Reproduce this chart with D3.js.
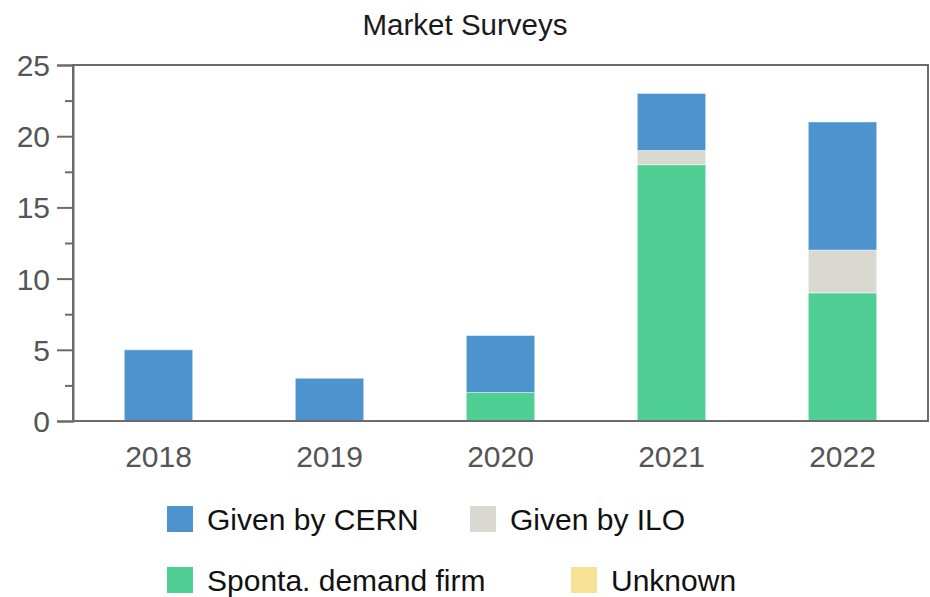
<!DOCTYPE html>
<html>
<head>
<meta charset="utf-8">
<script src="https://cdn.jsdelivr.net/npm/d3@7"></script>
<style>
  body { margin: 0; background: #fff; }
  text { font-family: "Liberation Sans", Arial, sans-serif; }
</style>
</head>
<body>
<div id="chart"></div>
<script>
var years = ["2018", "2019", "2020", "2021", "2022"];
var seriesNames = ["Sponta. demand firm", "Given by ILO", "Given by CERN", "Unknown"];
var cern = [5, 3, 4, 4, 9];
var ilo = [0, 0, 0, 1, 3];
var sponta = [0, 0, 2, 18, 9];
var unknown = [0, 0, 0, 0, 0];
var yTicks = [0, 5, 10, 15, 20, 25];

var colors = {
  "Given by CERN": "#4d93ce",
  "Given by ILO": "#d9d9d1",
  "Sponta. demand firm": "#4fcf94",
  "Unknown": "#f7e295"
};

var chart = {
  width: 930,
  height: 597,
  top: 65,
  right: 2,
  bottom: 176,
  left: 73,
};

var w = chart.width - chart.left - chart.right;
var h = chart.height - chart.top - chart.bottom;

var rows = years.map((y, i) => {
  return {
    year: y,
    "Sponta. demand firm": sponta[i],
    "Given by ILO": ilo[i],
    "Given by CERN": cern[i],
    "Unknown": unknown[i]
  };
});

var svg = d3.select("#chart")
  .append("svg")
  .attr("width", chart.width)
  .attr("height", chart.height);

svg.append("text")
  .attr("x", 465)
  .attr("y", 35)
  .attr("text-anchor", "middle")
  .style("font-size", "29.5px")
  .style("fill", "#1a1a1a")
  .text("Market Surveys");

var g = svg.append("g")
  .attr("transform", "translate(" + chart.left + "," + chart.top + ")");

var x = d3.scaleBand()
  .domain(years)
  .range([0, w])
  .paddingInner(0.6)
  .paddingOuter(0.3);

var y = d3.scaleLinear()
  .domain([0, 25])
  .range([h, 0]);

/* stacked bars */
var stacked = d3.stack().keys(seriesNames)(rows);

g.selectAll("g.layer")
  .data(stacked)
  .enter()
  .append("g")
  .attr("class", "layer")
  .style("fill", (d) => colors[d.key])
  .selectAll("rect")
  .data((d) => d.filter((p) => p[1] > p[0]))
  .enter()
  .append("rect")
  .attr("x", (d) => x(d.data.year))
  .attr("width", x.bandwidth())
  .attr("y", (d) => y(d[1]))
  .attr("height", (d) => y(d[0]) - y(d[1]))
  .style("stroke", "rgba(255,255,255,0.45)")
  .style("stroke-width", 1);

/* frame */
g.append("rect")
  .attr("x", 0)
  .attr("y", 0)
  .attr("width", w)
  .attr("height", h)
  .style("fill", "none")
  .style("stroke", "#6b6b6b")
  .style("stroke-width", 2);

/* minor ticks */
g.append("g")
  .call(d3.axisLeft(y).tickValues([2.5, 7.5, 12.5, 17.5, 22.5]).tickSize(8).tickFormat(""))
  .call((a) => a.select(".domain").remove())
  .selectAll("line")
  .style("stroke", "#6b6b6b")
  .style("stroke-width", 2);

/* y axis */
var yAxis = g.append("g")
  .call(d3.axisLeft(y).tickValues(yTicks).tickSize(16).tickPadding(7));
yAxis.select(".domain").style("stroke", "#6b6b6b").style("stroke-width", 2);
yAxis.selectAll("line").style("stroke", "#6b6b6b").style("stroke-width", 2);
yAxis.selectAll("text")
  .style("font-size", "30px")
  .style("fill", "#555")
  .attr("dy", "0.35em");

/* x axis */
var xAxis = g.append("g")
  .attr("transform", "translate(0," + h + ")")
  .call(d3.axisBottom(x).tickSize(0).tickPadding(25));
xAxis.select(".domain").remove();
xAxis.selectAll("text")
  .style("font-size", "30px")
  .style("fill", "#555");

/* legend */
var legendItems = [
  { name: "Given by CERN", x: 167, y: 506 },
  { name: "Given by ILO", x: 470, y: 506 },
  { name: "Sponta. demand firm", x: 167, y: 567 },
  { name: "Unknown", x: 571, y: 567 }
];

var legend = svg.selectAll("g.legend")
  .data(legendItems)
  .enter()
  .append("g")
  .attr("class", "legend")
  .attr("transform", (d) => "translate(" + d.x + "," + d.y + ")");

legend.append("rect")
  .attr("width", 26)
  .attr("height", 26)
  .style("fill", (d) => colors[d.name]);

legend.append("text")
  .attr("x", 40)
  .attr("y", 13)
  .attr("dy", "0.35em")
  .style("font-size", "30px")
  .style("fill", "#111")
  .text((d) => d.name);
</script>
</body>
</html>
